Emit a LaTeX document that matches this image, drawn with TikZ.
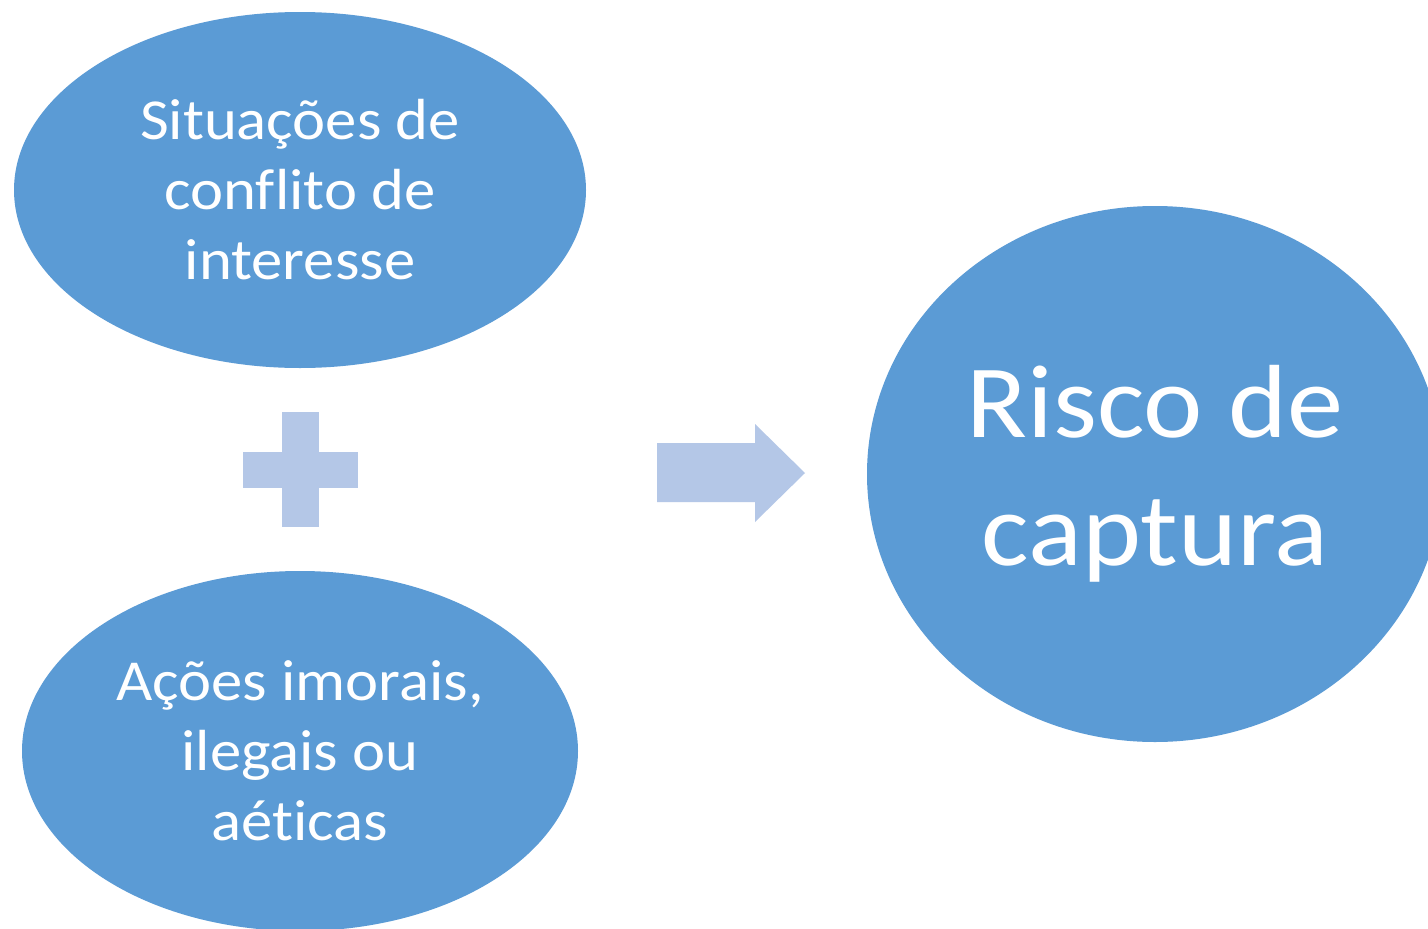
\documentclass[tikz,border=0pt]{standalone}
\usepackage{fontspec}
\setmainfont{Carlito}[FakeStretch=1.08, Ligatures=NoCommon]
\usetikzlibrary{shapes.geometric}
\definecolor{ellblue}{HTML}{5B9BD5}
\definecolor{lightblue}{HTML}{B4C7E7}
\tikzset{
  blob/.style={ellipse, fill=ellblue, draw=none, inner sep=0pt, text=white, align=center},
  smalltext/.style={font=\fontsize{58}{70}\selectfont},
  bigtext/.style={font=\fontsize{104}{128}\selectfont},
  sign/.style={fill=lightblue, draw=none}
}
\begin{document}
\begin{tikzpicture}[x=1pt,y=-1pt]
\useasboundingbox (0,0) rectangle (1428,929);
\clip (0,0) rectangle (1428,929);
\fill[white] (0,0) rectangle (1428,929);
\node[blob, smalltext, minimum width=572pt, minimum height=356pt] (sit) at (300,190) {Situações de\\conflito de\\interesse};
\node[blob, smalltext, minimum width=556pt, minimum height=360pt] (acoes) at (300,751) {Ações imorais,\\ilegais ou\\aéticas};
\node[blob, bigtext, minimum width=576pt, minimum height=536pt] (risco) at (1155,474) {Risco de\\captura};
% plus sign
\fill[sign] (282,412) rectangle (319,527);
\fill[sign] (243,452) rectangle (358,488);
% arrow
\fill[sign] (657,443) -- (755,443) -- (755,424) -- (805,473) -- (755,522) -- (755,502) -- (657,502) -- cycle;
\end{tikzpicture}
\end{document}
